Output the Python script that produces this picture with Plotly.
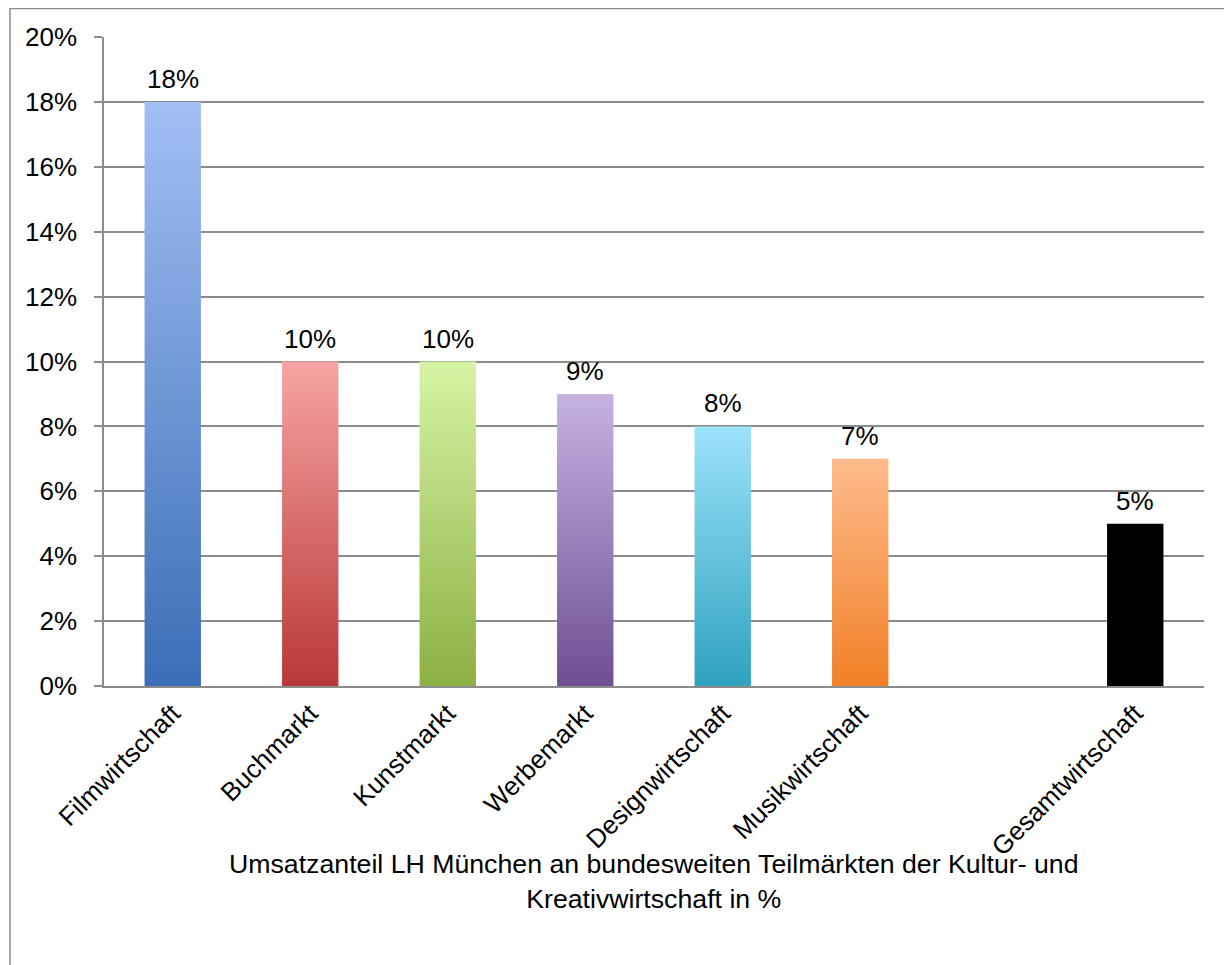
import plotly.graph_objects as go

# Umsatzanteil LH München an bundesweiten Teilmärkten (in %)
categories = [
    "Filmwirtschaft", "Buchmarkt", "Kunstmarkt", "Werbemarkt",
    "Designwirtschaft", "Musikwirtschaft", "", "Gesamtwirtschaft",
]
values = [18, 10, 10, 9, 8, 7, None, 5]
colors_top = ["#A2BFF4", "#F6A4A3", "#D6F4A4", "#C6B3E1", "#9CE2FB", "#FEBB8C", None, "#000000"]
colors_bottom = ["#3A6EB6", "#B93837", "#8CB043", "#6F4E93", "#2FA2BF", "#F18027", None, "#000000"]
y_ticks = [0, 2, 4, 6, 8, 10, 12, 14, 16, 18, 20]

FONT = "Liberation Sans, Arial, sans-serif"
FS = 26
GRID = "#8C8C8C"
BAR_WIDTH = 0.41

fig = go.Figure()

for i, (name, val) in enumerate(zip(categories, values)):
    if val is None:
        continue
    x0, x1 = i - BAR_WIDTH / 2, i + BAR_WIDTH / 2
    fig.add_trace(go.Scatter(
        x=[x0, x1, x1, x0, x0],
        y=[0, 0, val, val, 0],
        mode="lines",
        line=dict(width=0),
        fill="toself",
        fillgradient=dict(
            type="vertical",
            colorscale=[[0, colors_bottom[i]], [1, colors_top[i]]],
            start=0,
            stop=val,
        ),
        hoverinfo="skip",
        showlegend=False,
    ))
    fig.add_annotation(
        x=i, y=val, text=f"{val}%", showarrow=False,
        yanchor="bottom", yshift=6,
        font=dict(family=FONT, size=FS, color="#000000"),
    )

fig.add_annotation(
    x=0.5, y=-0.302, xref="paper", yref="paper",
    text="Umsatzanteil LH München an bundesweiten Teilmärkten der Kultur- und<br>Kreativwirtschaft in %",
    showarrow=False, xanchor="center", yanchor="middle",
    font=dict(family=FONT, size=26.7, color="#000000"),
)

# outer chart border (top and left visible)
fig.add_shape(
    type="rect", xref="paper", yref="paper",
    x0=-0.0855, x1=1.2, y0=-0.6, y1=1.0439,
    line=dict(color=GRID, width=1.5), layer="below",
)

fig.update_layout(
    width=1224, height=957,
    margin=dict(l=96, r=28, t=29, b=279),
    paper_bgcolor="white", plot_bgcolor="white",
    font=dict(family=FONT, size=FS, color="#000000"),
    showlegend=False,
)
fig.update_xaxes(
    range=[-0.5, len(categories) - 0.5],
    tickmode="array", tickvals=list(range(len(categories))), ticktext=categories,
    tickangle=-45, ticks="", showgrid=False, zeroline=False,
    showline=True, linecolor=GRID, linewidth=1.5,
    tickfont=dict(family=FONT, size=FS),
)
fig.update_yaxes(
    range=[0, 20], tickmode="array", tickvals=y_ticks,
    ticktext=[f"{v}%" for v in y_ticks],
    ticks="outside", ticklen=8, tickcolor=GRID, tickwidth=1.5,
    ticklabelstandoff=12,
    showgrid=True, gridcolor=GRID, gridwidth=1.5, zeroline=False,
    showline=True, linecolor=GRID, linewidth=1.5,
    tickfont=dict(family=FONT, size=FS),
)

fig.write_html("out.html")
